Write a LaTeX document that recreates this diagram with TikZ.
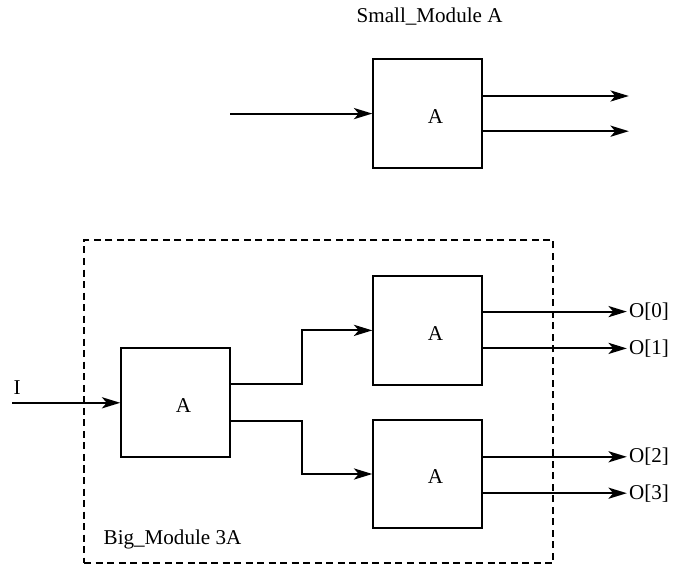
\documentclass[tikz,border=0pt]{standalone}
\usepackage{fontspec}
\setmainfont{Liberation Serif}
\usepackage{tikz}
\usetikzlibrary{arrows.meta,positioning,calc}

\begin{document}
\begin{tikzpicture}[
  modbox/.style={draw=black, line width=1.3pt, minimum width=2.72cm, minimum height=2.72cm,
    label={[font=\fontsize{15}{18}\selectfont, xshift=2mm, yshift=-0.7mm]center:#1}},
  sig/.style={line width=1.3pt, -{Stealth[length=4.6mm, width=2.8mm, inset=1.2mm]}},
  lbl/.style={font=\fontsize{15}{18}\selectfont, inner sep=1pt}]
  \useasboundingbox (0,0) rectangle (16.925,14.15);

  % small module
  \node (title) [lbl] at (10.74,13.73) {Small\_Module A};
  \node (sA) [modbox=A] at (10.69,11.31) {};
  \coordinate (sIn) at (5.75,11.31);
  \coordinate (sOut0) at (15.72,11.75);
  \coordinate (sOut1) at (15.72,10.87);
  \draw [sig] (sIn) -- (sA.west);
  \draw [sig] (sA.east |- sOut0) -- (sOut0);
  \draw [sig] (sA.east |- sOut1) -- (sOut1);

  % big module
  \node (big) [draw=black, line width=1.3pt, dash pattern=on 5pt off 3.2pt,
    minimum width=11.73cm, minimum height=8.08cm, inner sep=0pt] at (7.97,4.11) {};
  \node (bigLbl) [lbl, anchor=west] at (2.55,0.66) {Big\_Module 3A};
  \node (bA) [modbox=A] at (4.39,4.08) {};
  \node (uA) [modbox=A] at (10.69,5.89) {};
  \node (lA) [modbox=A] at (10.69,2.30) {};

  \coordinate (iIn) at (0.3,4.08);
  \node (iLbl) [lbl] at (0.43,4.47) {I};
  \draw [sig] (iIn) -- (bA.west);

  \coordinate (j0) at (7.56,4.54);
  \coordinate (j1) at (7.56,3.63);
  \draw [sig] (bA.east |- j0) -- (j0) |- (uA.west);
  \draw [sig] (bA.east |- j1) -- (j1) |- (lA.west);

  \coordinate (e0) at (15.67,6.36);
  \coordinate (e1) at (15.67,5.44);
  \coordinate (e2) at (15.67,2.73);
  \coordinate (e3) at (15.67,1.82);
  \draw [sig] (uA.east |- e0) -- (e0) node (o0) [lbl, right] {O[0]};
  \draw [sig] (uA.east |- e1) -- (e1) node (o1) [lbl, right] {O[1]};
  \draw [sig] (lA.east |- e2) -- (e2) node (o2) [lbl, right] {O[2]};
  \draw [sig] (lA.east |- e3) -- (e3) node (o3) [lbl, right] {O[3]};
\end{tikzpicture}
\end{document}
